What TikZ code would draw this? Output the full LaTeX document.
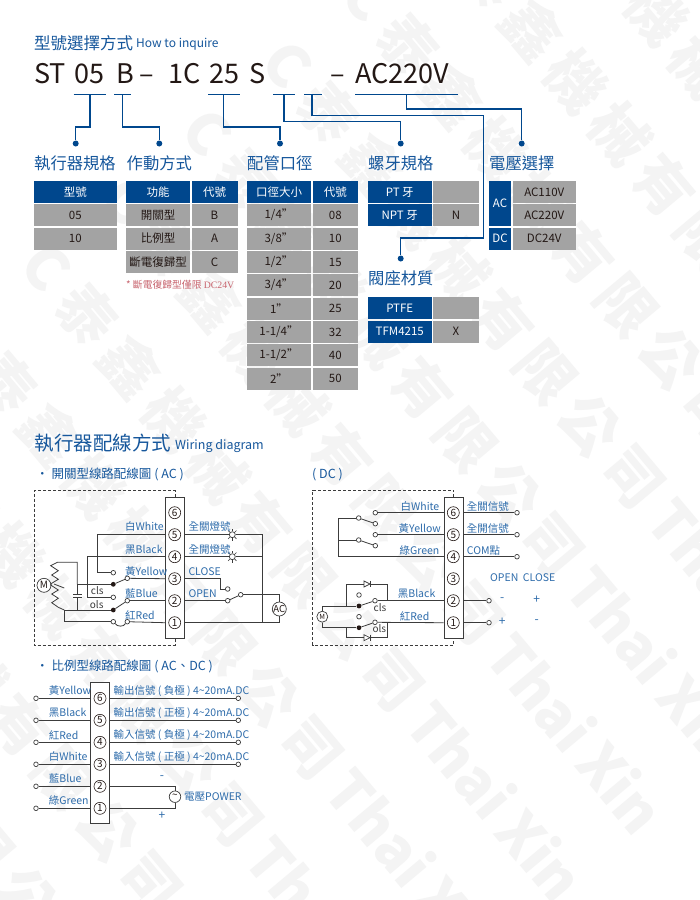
\documentclass[tikz,border=0pt]{standalone}
\usepackage{fontspec}
\setmainfont{Noto Sans CJK TC}
\newfontfamily\serifl{Liberation Serif}
\definecolor{navy}{HTML}{00478D}
\definecolor{title}{HTML}{16579C}
\definecolor{cellg}{HTML}{A3A3A3}
\definecolor{wire}{HTML}{3C3C3C}
\definecolor{lab}{HTML}{2E6CAB}
\definecolor{note}{HTML}{C8646E}
\definecolor{ink}{HTML}{231815}
\definecolor{wm}{HTML}{F4F4F4}
\newcommand{\fsz}[1]{\fontsize{#1}{#1}\selectfont}
% name x1 y1 x2 y2 style text
\newcommand{\tcell}[7]{\node[#6,minimum width={(#4-#2)*1pt},minimum height={(#5-#3)*1pt}] (#1) at ({(#2+#4)/2},{(#3+#5)/2}) {#7};}
\tikzset{
  hcell/.style={fill=navy,text=white,inner sep=0pt,font=\fsz{11.5}},
  gcell/.style={fill=cellg,text=ink,inner sep=0pt,font=\fsz{11.5}},
  rule/.style={draw=navy,line width=1.1pt},
  link/.style={draw=navy,line width=1.1pt},
  dotend/.style={circle,fill=navy,inner sep=0pt,minimum size=6pt},
  heading/.style={text=title,anchor=west,inner sep=0pt,font=\fsz{16.3}},
  bigcode/.style={text=ink,anchor=base west,inner sep=0pt,font=\fsz{27}},
  stripbox/.style={draw=wire,fill=white,line width=0.9pt,inner sep=0pt},
  term/.style={circle,draw=ink,fill=white,line width=0.6pt,inner sep=0pt,minimum size=12pt,text=ink,font=\fsz{10}},
  oc/.style={circle,draw=wire,fill=white,line width=0.7pt,inner sep=0pt,minimum size=4.6pt},
  fc/.style={circle,fill=ink,inner sep=0pt,minimum size=4.8pt},
  wr/.style={draw=wire,line width=0.8pt},
  wlab/.style={text=lab,anchor=west,inner sep=0pt,font=\fsz{10.5}},
  dashbox/.style={draw=wire,line width=0.8pt,dash pattern=on 3pt off 2pt},
  gsym/.style={circle,draw=wire,fill=white,line width=0.7pt,inner sep=0pt,text=ink},
  lampn/.style={circle,draw=wire,fill=white,line width=0.7pt,inner sep=0pt,minimum size=6pt},
  swlab/.style={text=wire,inner sep=0pt,font=\fsz{10}},
  wmark/.style={text=wm,rotate=-50,anchor=west,inner sep=0pt,font=\bfseries\fsz{58}},
}
\newcommand{\lampmark}[3]{\node[lampn] (#1) at (#2,#3) {};
  \foreach \aa in {0,45,...,315} {\draw[wire,line width=0.6pt] (#1) ++(\aa:3.4) -- ++(\aa:2.4);}}
\newcommand{\wmrow}[2]{\node[wmark] at ({0.643*#1+0.766*#2},{0.766*#1-0.643*#2}) {C\hspace{14pt}泰\hspace{10pt}鑫\hspace{10pt}機\hspace{10pt}械\hspace{10pt}有\hspace{10pt}限\hspace{10pt}公\hspace{10pt}司\hspace{12pt}Thai\hspace{12pt}Xin};}
\begin{document}
\begin{tikzpicture}[x=1pt,y=-1pt]
\useasboundingbox (0,0) rectangle (700,900);
\fill[white] (0,0) rectangle (700,900);
% watermark: t along the row, n across it
\begin{scope}
\clip (0,0) rectangle (700,900);
\foreach \n in {-556,-451,-346,-241,-136,-31,74,179,284,389,494} {\wmrow{215}{\n}}
\end{scope}
% title
\node[heading,font=\fsz{16.5}] (ttl) at (34,43) {型號選擇方式};
\node[text=title,anchor=west,inner sep=0pt,font=\fsz{12}] (ttlen) at (136,44) {How to inquire};
\node[bigcode] (cST) at (34,83) {ST};
\node[bigcode] (c05) at (74,83) {05};
\node[bigcode] (cB) at (116,83) {B};
\node[bigcode] (cd1) at (139,83) {–};
\node[bigcode] (c1C) at (168,83) {1C};
\node[bigcode] (c25) at (209,83) {25};
\node[bigcode] (cS) at (249,83) {S};
\node[bigcode] (cd2) at (330,83) {–};
\node[bigcode] (cAC) at (355,83) {AC220V};
% code underlines
\coordinate (u1a) at (73.7,94.7); \coordinate (u1b) at (105.7,94.7); \coordinate (u1) at (90,94.7);
\coordinate (u2a) at (114.3,94.7); \coordinate (u2b) at (131,94.7); \coordinate (u2) at (122.3,94.7);
\coordinate (u3a) at (208.3,94.7); \coordinate (u3b) at (239.7,94.7); \coordinate (u3) at (223.7,94.7);
\coordinate (u4a) at (273.3,94.7); \coordinate (u4b) at (295,94.7); \coordinate (u4) at (284,94.7);
\coordinate (u5a) at (304,94.7); \coordinate (u5b) at (321.7,94.7); \coordinate (u5) at (312,94.7);
\coordinate (u6a) at (355.3,94.7); \coordinate (u6b) at (458,94.7); \coordinate (u6) at (406.7,94.7);
\draw[rule] (u1a)--(u1b) (u2a)--(u2b) (u3a)--(u3b) (u4a)--(u4b) (u5a)--(u5b) (u6a)--(u6b);
\node[dotend] (d1) at (75.7,143.5) {};
\node[dotend] (d2) at (159.3,143.5) {};
\node[dotend] (d3) at (280,143.5) {};
\node[dotend] (d4) at (400.7,143.5) {};
\node[dotend] (d5) at (400.7,258.5) {};
\node[dotend] (d6) at (521.7,143.5) {};
\coordinate (y1) at (0,127); \coordinate (y4) at (0,121.5); \coordinate (y5) at (0,115.5); \coordinate (y6) at (0,109);
\coordinate (x5) at (483.7,238);
\draw[link] (u1) |- (y1 -| d1) -- (d1);
\draw[link] (u2) |- (y1 -| d2) -- (d2);
\draw[link] (u3) |- (y1 -| d3) -- (d3);
\draw[link] (u4) |- (y4 -| d4) -- (d4);
\draw[link] (u5) |- (y5 -| x5) -- (x5) -- (x5 -| d5) -- (d5);
\draw[link] (u6) |- (y6 -| d6) -- (d6);
% headings
\node[heading] (h1) at (34,163) {執行器規格};
\node[heading] (h2) at (126.5,163) {作動方式};
\node[heading] (h3) at (247,163) {配管口徑};
\node[heading] (h4) at (368,163) {螺牙規格};
\node[heading] (h5) at (489,163) {電壓選擇};
\node[heading] (h6) at (368,278) {閥座材質};
% table 1
\tcell{a0}{34}{181}{116.5}{203}{hcell}{型號}
\tcell{a1}{34}{204}{116.5}{226}{gcell}{05}
\tcell{a2}{34}{227.5}{116.5}{249.5}{gcell}{10}
% table 2
\tcell{b0}{126}{181}{190}{203}{hcell}{功能}
\tcell{b0c}{191.5}{181}{237.5}{203}{hcell}{代號}
\tcell{b1}{126}{204}{190}{226}{gcell}{開關型}
\tcell{b1c}{191.5}{204}{237.5}{226}{gcell}{B}
\tcell{b2}{126}{227.5}{190}{249.5}{gcell}{比例型}
\tcell{b2c}{191.5}{227.5}{237.5}{249.5}{gcell}{A}
\tcell{b3}{126}{251}{190}{273}{gcell}{斷電復歸型}
\tcell{b3c}{191.5}{251}{237.5}{273}{gcell}{C}
\node[text=note,anchor=west,inner sep=0pt,font=\fsz{9.8}] (nt) at (126,285) {* 斷電復歸型僅限 {\serifl DC24V}};
% table 3
\tcell{c0}{247}{181}{311}{203}{hcell}{口徑大小}
\tcell{c0c}{312.5}{181}{358}{203}{hcell}{代號}
\tcell{c1}{247}{204}{311}{226}{gcell}{1/4"}
\tcell{c1c}{312.5}{204}{358}{226}{gcell}{08}
\tcell{c2}{247}{227.5}{311}{249.5}{gcell}{3/8"}
\tcell{c2c}{312.5}{227.5}{358}{249.5}{gcell}{10}
\tcell{c3}{247}{251}{311}{273}{gcell}{1/2"}
\tcell{c3c}{312.5}{251}{358}{273}{gcell}{15}
\tcell{c4}{247}{274}{311}{296}{gcell}{3/4"}
\tcell{c4c}{312.5}{274}{358}{296}{gcell}{20}
\tcell{c5}{247}{297.5}{311}{319.5}{gcell}{1"}
\tcell{c5c}{312.5}{297.5}{358}{319.5}{gcell}{25}
\tcell{c6}{247}{321}{311}{343}{gcell}{1-1/4"}
\tcell{c6c}{312.5}{321}{358}{343}{gcell}{32}
\tcell{c7}{247}{344}{311}{366}{gcell}{1-1/2"}
\tcell{c7c}{312.5}{344}{358}{366}{gcell}{40}
\tcell{c8}{247}{367.5}{311}{389.5}{gcell}{2"}
\tcell{c8c}{312.5}{367.5}{358}{389.5}{gcell}{50}
% thread
\tcell{e1}{368}{181}{431.5}{203}{hcell}{PT 牙}
\tcell{e1c}{433}{181}{479}{203}{gcell}{}
\tcell{e2}{368}{204}{431.5}{226}{hcell}{NPT 牙}
\tcell{e2c}{433}{204}{479}{226}{gcell}{N}
% seat
\tcell{f1}{368}{297}{431.5}{319}{hcell}{PTFE}
\tcell{f1c}{433}{297}{479}{319}{gcell}{}
\tcell{f2}{368}{320.5}{431.5}{342.5}{hcell}{TFM4215}
\tcell{f2c}{433}{320.5}{479}{342.5}{gcell}{X}
% voltage
\tcell{g1}{489}{181}{511}{226}{hcell}{AC}
\tcell{g1a}{512.5}{181}{576}{203}{gcell}{AC110V}
\tcell{g1b}{512.5}{204}{576}{226}{gcell}{AC220V}
\tcell{g2}{489}{227.5}{511}{249.5}{hcell}{DC}
\tcell{g2a}{512.5}{227.5}{576}{249.5}{gcell}{DC24V}
% wiring headings
\node[heading,font=\fsz{19.5}] (wh) at (34.5,443) {執行器配線方式};
\node[text=title,anchor=west,inner sep=0pt,font=\fsz{12.5}] (when) at (175,446) {Wiring diagram};
\node[text=title,anchor=west,inner sep=0pt,font=\fsz{12.5}] (s1) at (36,474.5) {• 開關型線路配線圖 ( AC )};
\node[text=title,anchor=west,inner sep=0pt,font=\fsz{12.5}] (s2) at (312,474.5) {( DC )};
\node[text=title,anchor=west,inner sep=0pt,font=\fsz{12.5}] (s3) at (36,666.5) {• 比例型線路配線圖 ( AC、DC )};
%%%%%%% AC diagram
\node[stripbox,minimum width=19.4pt,minimum height=140.7pt] (as) at (175,567.65) {};
\foreach \k/\yy in {6/512.7,5/534.7,4/556.7,3/578.7,2/600.7,1/622.7} {\node[term] (a\k) at (174.7,\yy) {\k};}
\coordinate (acTL) at (34,490.7); \coordinate (acBL) at (34,645);
\draw[dashbox] (as.north) |- (acTL) -- (acBL) -| (as.south);
\lampmark{lp1}{232.3}{534.7}
\lampmark{lp2}{232.3}{556.7}
\node[oc] (cc) at (227.7,589) {};
\node[oc] (co) at (227.7,600.7) {};
\node[oc] (cr) at (240.7,594.7) {};
\node[gsym,minimum size=14pt,font=\fsz{9.5}] (acsrc) at (279.3,609) {AC};
\coordinate (bus) at (262.3,534.7);
\coordinate (busb) at (262.3,622.7);
\coordinate (busm) at (262.3,594.7);
\coordinate (cbend) at (220,589);
\draw[wr] (a5 -| as.east) -- (lp1) -- (bus) -- (busb);
\draw[wr] (a4 -| as.east) -- (lp2) -- (lp2 -| bus);
\draw[wr] (a3 -| as.east) -| (cbend) -- (cc);
\draw[wr] (a2 -| as.east) -- (co);
\draw[wr] (co) -- (cr);
\draw[wr] (cr) -- (busm) -- (busm -| acsrc) -- (acsrc);
\draw[wr] (a1 -| as.east) -- (a1 -| acsrc) -- (acsrc);
\node[oc] (lA) at (113.3,572.7) {};
\node[fc] (lB) at (113.3,584.3) {};
\node[oc] (lC) at (113.3,597.3) {};
\node[fc] (lD) at (113.3,610) {};
\node[oc] (lE) at (113.3,621.7) {};
\node[oc] (rA) at (127.3,578.3) {};
\node[oc] (rB) at (127.3,600.7) {};
\node[oc] (rC) at (127.3,621.7) {};
\node[gsym,minimum size=14pt,font=\fsz{10}] (mot) at (44,585.3) {M};
\coordinate (j1) at (97.7,556.7);
\coordinate (j2) at (87.3,584.3);
\coordinate (capu) at (77.3,594);
\coordinate (capl) at (77.3,597.3);
\coordinate (j3) at (64.3,610);
\draw[wr] (a3 -| as.west) -- (rA); \draw[wr] (rA) -- (lB);
\draw[wr] (a2 -| as.west) -- (rB); \draw[wr] (rB) -- (lD);
\draw[wr] (a1 -| as.west) -- (rC);
\draw[wr] (rC.south west) .. controls (124,627) and (117,627) .. (lE.south east);
\draw[wr] (a5 -| as.west) -| (j1) |- (lA);
\draw[wr] (a4 -| as.west) -| (j2) |- (lC);
\draw[wr] (lB) -- (j2);
\draw[wr] (j2) -- (77.3,584.3) -- (capu);
\draw[wr] (77.3,584.3) -- (77.3,562.3) -- (57.3,562.3) -- (50.7,565.7) -- (58.3,570.7) -- (51.7,575) -- (58.3,579.3) -- (51.7,583.3) -- (50.7,585) -- (mot);
\draw[wr] (50.7,585) -- (58.3,590) -- (51.7,594) -- (58.3,598.3) -- (51.7,602.7) -- (58.3,607.3) -- (j3);
\draw[wr] (54,584) -- (64.3,588);
\draw[wr] (capl) -- (77.3,610);
\draw[wr] (72.8,594) -- (81.8,594) (72.8,597.3) -- (81.8,597.3);
\draw[wr] (j3) -- (lD);
\draw[wr] (j3) |- (lE);
\node[wlab] at (125,526.7) {白White};
\node[wlab] at (125,549.3) {黑Black};
\node[wlab] at (125,571.3) {黃Yellow};
\node[wlab] at (125,593.3) {藍Blue};
\node[wlab] at (125,615.3) {紅Red};
\node[wlab] at (188.3,526.7) {全關燈號};
\node[wlab] at (188.3,549.3) {全開燈號};
\node[wlab] at (188.3,571.3) {CLOSE};
\node[wlab] at (188.3,593.3) {OPEN};
\node[swlab] at (97.3,591) {cls};
\node[swlab] at (96.7,604.3) {ols};
%%%%%%% DC diagram
\node[stripbox,minimum width=19.4pt,minimum height=140.7pt] (ds) at (453.7,567.65) {};
\foreach \k/\yy in {6/512.7,5/534.7,4/556.7,3/578.7,2/600.7,1/622.7} {\node[term] (k\k) at (453.3,\yy) {\k};}
\coordinate (dcTL) at (312.7,490); \coordinate (dcBL) at (312.7,645);
\draw[dashbox] (ds.north) |- (dcTL) -- (dcBL) -| (ds.south);
\foreach \nm/\yy in {o6/512.7,o5/534.7,o4/556.7} {\node[oc] (\nm) at (517,\yy) {};}
\foreach \nm/\yy in {o2/600.7,o1/622.7} {\node[oc] (\nm) at (489,\yy) {};}
\draw[wr] (k6 -| ds.east) -- (o6);
\draw[wr] (k5 -| ds.east) -- (o5);
\draw[wr] (k4 -| ds.east) -- (o4);
\draw[wr] (k2 -| ds.east) -- (o2);
\draw[wr] (k1 -| ds.east) -- (o1);
\node[oc] (s6) at (375.3,512.7) {};
\node[oc] (s6b) at (375.3,523.7) {};
\node[oc] (s5) at (375.3,534.7) {};
\node[oc] (s5b) at (375.3,545.7) {};
\node[oc] (sA) at (358.7,518) {};
\node[oc] (sB) at (358.7,540) {};
\coordinate (dl) at (338.7,518);
\draw[wr] (k6 -| ds.west) -- (s6);
\draw[wr] (k5 -| ds.west) -- (s5);
\draw[wr] (sA) -- (s6b); \draw[wr] (sB) -- (s5b);
\draw[wr] (k4 -| ds.west) -| (dl) -- (sA);
\draw[wr] (dl |- sB) -- (sB);
\node[fc] (mA) at (359,606) {};
\node[fc] (mB) at (359,627.7) {};
\node[oc] (mC) at (359,595) {};
\node[oc] (mD) at (359,616.7) {};
\node[oc] (mE) at (375,600.7) {};
\node[oc] (mF) at (375,622.3) {};
\node[gsym,minimum size=11pt,font=\fsz{7}] (dmot) at (322.3,616.7) {M};
\draw[wr] (k2 -| ds.west) -- (mE); \draw[wr] (mE) -- (mA);
\draw[wr] (k1 -| ds.west) -- (mF); \draw[wr] (mF) -- (mB);
\draw[wr] (dmot) |- (mA);
\draw[wr] (dmot) |- (mB);
\coordinate (rtl) at (346,584); \coordinate (rtr) at (387.7,584);
\coordinate (rbl) at (346,637.7); \coordinate (rbr) at (387.7,637.7);
\draw[wr] (rtl |- mA) -- (rtl) -- (rtr) -- (rtr |- mE);
\draw[wr] (rbl |- mB) -- (rbl) -- (rbr) -- (rbr |- mF);
\foreach \yy in {584,637.7} {
  \fill[white] (364,\yy-3) rectangle (370.5,\yy+3);
  \draw[wire,fill=white,line width=0.7pt] (364,\yy-3) -- (370,\yy) -- (364,\yy+3) -- cycle;
  \draw[wire,line width=0.9pt] (370.3,\yy-3.2) -- (370.3,\yy+3.2);
}
\node[wlab,anchor=east] at (439.5,506.5) {白White};
\node[wlab,anchor=east] at (441,528.3) {黃Yellow};
\node[wlab,anchor=east] at (439.5,550.3) {綠Green};
\node[wlab,anchor=east] at (435.5,594) {黑Black};
\node[wlab,anchor=east] at (429.5,616) {紅Red};
\node[wlab] at (466.7,506.5) {全關信號};
\node[wlab] at (466.7,528.3) {全開信號};
\node[wlab] at (466.7,550.3) {COM點};
\node[wlab] at (490,577.3) {OPEN};
\node[wlab] at (522.7,577.3) {CLOSE};
\node[text=lab,inner sep=0pt,font=\fsz{12}] at (502.3,599.3) {-};
\node[text=lab,inner sep=0pt,font=\fsz{12}] at (536.7,599.3) {+};
\node[text=lab,inner sep=0pt,font=\fsz{12}] at (502.3,622) {+};
\node[text=lab,inner sep=0pt,font=\fsz{12}] at (536.7,622) {-};
\node[swlab] at (380,607.8) {cls};
\node[swlab] at (379.3,629) {ols};
%%%%%%% proportional diagram
\node[stripbox,minimum width=19pt,minimum height=140.6pt] (ps) at (100.2,753) {};
\foreach \k/\yy in {6/698.3,5/720.3,4/742.3,3/764.3,2/786.3,1/808.3} {
  \node[term] (p\k) at (100,\yy) {\k};
  \node[oc] (pl\k) at (36,\yy) {};
  \draw[wr] (p\k -| ps.west) -- (pl\k);
}
\foreach \k/\yy in {6/698.3,5/720.3,4/742.3,3/764.3} {
  \node[oc] (pr\k) at (238.3,\yy) {};
  \draw[wr] (p\k -| ps.east) -- (pr\k);
}
\node[gsym,minimum size=11.5pt,font=\fsz{10}] (pw) at (175,796.7) {\raisebox{0pt}{\textasciitilde}};
\draw[wr] (p2 -| ps.east) -| (pw);
\draw[wr] (p1 -| ps.east) -| (pw);
\node[wlab] at (48.7,691) {黃Yellow};
\node[wlab] at (48.7,712.7) {黑Black};
\node[wlab] at (48.7,735) {紅Red};
\node[wlab] at (48.7,756.7) {白White};
\node[wlab] at (48.7,778.3) {藍Blue};
\node[wlab] at (48.7,800.7) {綠Green};
\node[wlab] at (113.3,691) {輸出信號 ( 負極 ) 4\textasciitilde20mA.DC};
\node[wlab] at (113.3,712.7) {輸出信號 ( 正極 ) 4\textasciitilde20mA.DC};
\node[wlab] at (113.3,735) {輸入信號 ( 負極 ) 4\textasciitilde20mA.DC};
\node[wlab] at (113.3,756.7) {輸入信號 ( 正極 ) 4\textasciitilde20mA.DC};
\node[wlab] at (184,796.7) {電壓POWER};
\node[text=lab,inner sep=0pt,font=\fsz{12}] at (162,777.7) {-};
\node[text=lab,inner sep=0pt,font=\fsz{12}] at (162,816) {+};
\end{tikzpicture}
\end{document}
